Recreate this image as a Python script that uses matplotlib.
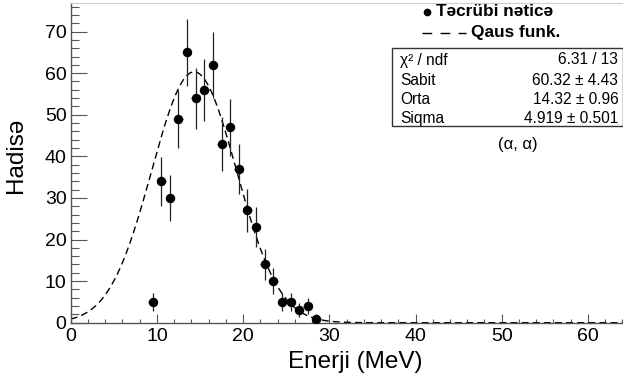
import numpy as np
import matplotlib
matplotlib.use("Agg")
import matplotlib.pyplot as plt
from matplotlib.lines import Line2D
from matplotlib.patches import Rectangle
from matplotlib.ticker import MultipleLocator

plt.rcParams['font.family'] = ['Liberation Sans', 'DejaVu Sans']

# ---- data ----
energy = [9.5, 10.5, 11.5, 12.5, 13.5, 14.5, 15.5, 16.5, 17.5, 18.5,
          19.5, 20.5, 21.5, 22.5, 23.5, 24.5, 25.5, 26.5, 27.5, 28.5]
events = [5, 34, 30, 49, 65, 54, 56, 62, 43, 47,
          37, 27, 23, 14, 10, 5, 5, 3, 4, 1]
event_err = [2.24, 5.83, 5.48, 7.0, 8.06, 7.35, 7.48, 7.87, 6.56, 6.86,
             6.08, 5.2, 4.8, 3.74, 3.16, 2.24, 2.24, 1.73, 2.0, 1.0]
bin_half_width = [0.5] * len(energy)

# Gaussian fit parameters (constant, mean, sigma)
fit_constant = 60.32
fit_mean = 14.32
fit_sigma = 4.919

stat_labels = ["\u03c7\u00b2 / ndf", "Sabit", "Orta", "Siqma"]
stat_values = ["6.31 / 13", "60.32 \u00b1 4.43", "14.32 \u00b1 0.96", "4.919 \u00b1 0.501"]

W, H = 623, 379
fig = plt.figure(figsize=(W / 100, H / 100), dpi=100)
x0, x1, y0, y1 = 70.7, 623.0, 322.7, 3.3
ax = fig.add_axes([x0 / W, 1 - y0 / H, (x1 - x0) / W, (y0 - y1) / H])

def fx(px):
    return px / W

def fy(py):
    return 1 - py / H

# fit curve
xs = np.linspace(0, 64, 600)
ys = fit_constant * np.exp(-0.5 * ((xs - fit_mean) / fit_sigma) ** 2)
ax.plot(xs, ys, color='black', lw=1.0, ls=(0, (5, 3)), zorder=2)

# data points
ax.errorbar(energy, events, yerr=event_err, xerr=bin_half_width, fmt='o',
            color='black', ms=5.8, elinewidth=0.9, capsize=0, zorder=3,
            ecolor='#222222')

ax.set_xlim(0, 64.07)
ax.set_ylim(0, 76.8)

ax.xaxis.set_major_locator(MultipleLocator(10))
ax.xaxis.set_minor_locator(MultipleLocator(2))
ax.yaxis.set_major_locator(MultipleLocator(10))
ax.yaxis.set_minor_locator(MultipleLocator(2))

ax.tick_params(axis='x', which='major', direction='in', length=6.5, width=0.8,
               color='#555555', labelsize=14, pad=3.5, top=False)
ax.tick_params(axis='x', which='minor', direction='in', length=3, width=0.8,
               color='#555555', top=False)
ax.tick_params(axis='y', which='major', direction='in', length=11.5, width=0.8,
               color='#555555', labelsize=14, pad=3, right=False)
ax.tick_params(axis='y', which='minor', direction='in', length=5.8, width=0.8,
               color='#555555', right=False)

for s in ['left', 'bottom']:
    ax.spines[s].set_color('#555555')
    ax.spines[s].set_linewidth(1.0)
ax.spines['top'].set_color('#cccccc')
ax.spines['top'].set_linewidth(0.8)
ax.spines['right'].set_visible(False)

ax.set_xlabel("Enerji (MeV)", fontsize=17.5)
ax.set_ylabel("Hadisə", fontsize=17.5)
# label centres (in axes fraction)
ax.xaxis.set_label_coords((355 - x0) / (x1 - x0), -(361.7 - y0) / (y0 - y1))
ax.xaxis.label.set_va('center')
ax.yaxis.set_label_coords(-(x0 - 15.8) / (x1 - x0), (y0 - 155) / (y0 - y1))
ax.yaxis.label.set_va('center')

# legend (ROOT style)
fig.add_artist(Line2D([fx(427.5)], [fy(11.7)], marker='o', color='black', ms=4.5,
                      transform=fig.transFigure))
fig.text(fx(436), fy(11.7), "Təcrübi nəticə", fontsize=12.4, fontweight='bold',
         ha='left', va='center')
fig.add_artist(Line2D([fx(421.7), fx(466)], [fy(32.7), fy(32.7)], color='black',
                      lw=1.0, ls=(0, (7, 6)), transform=fig.transFigure))
fig.text(fx(471), fy(32.7), "Qaus funk.", fontsize=12.4, fontweight='bold',
         ha='left', va='center')

# stats box
fig.add_artist(Rectangle((fx(391.7), fy(125.5)), fx(622.5) - fx(391.7), fy(48.3) - fy(125.5),
                         transform=fig.transFigure, fill=False, ec='#333333', lw=1.0))
row_y = [60, 80.5, 99.5, 118.5]
for lab, val, ry in zip(stat_labels, stat_values, row_y):
    fig.text(fx(400), fy(ry), lab, fontsize=11.2, ha='left', va='center')
    fig.text(fx(618.3), fy(ry), val, fontsize=11.2, ha='right', va='center')

fig.text(fx(517.5), fy(145), "(\u03b1, \u03b1)", fontsize=12, ha='center', va='center')

fig.savefig("out.png", dpi=100)
